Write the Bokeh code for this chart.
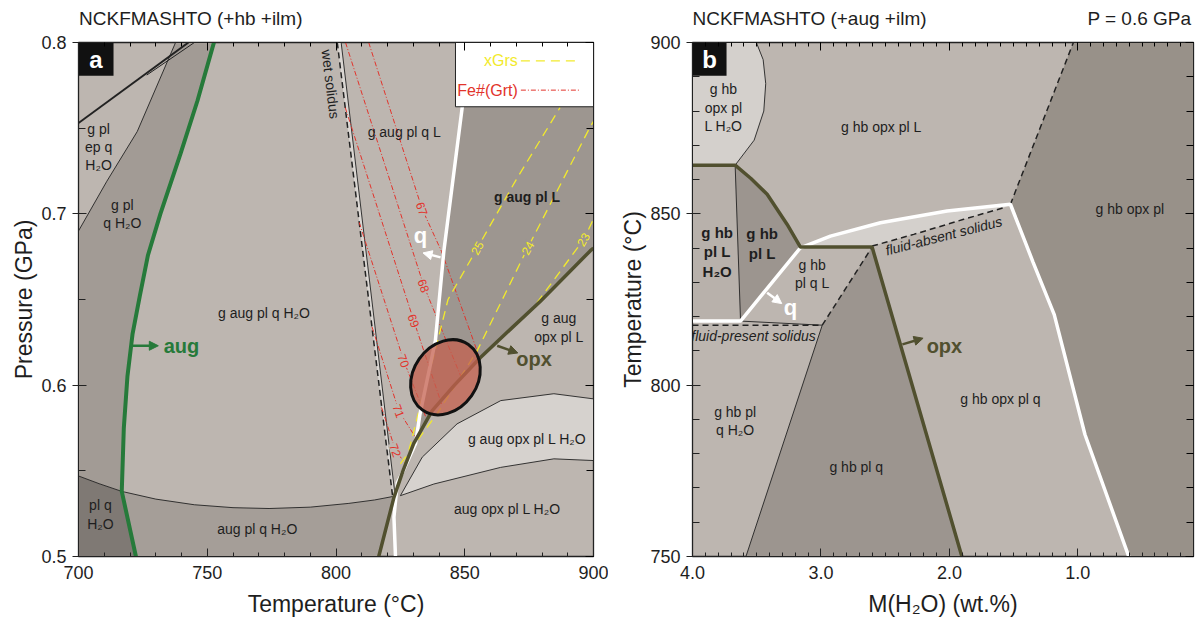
import numpy as np
from bokeh.plotting import figure
from bokeh.layouts import row
from bokeh.models import (LinearAxis, FixedTicker, PrintfTickFormatter, CustomJSTickFormatter, Arrow,
                          NormalHead, Range1d, ColumnDataSource)
from bokeh.core.properties import value
from bokeh.embed import file_html
from bokeh.resources import INLINE

FONT = "Liberation Sans"
BASE = "#bdb6b0"
INK = "#1e1e1e"
GREEN = "#267a3a"
OLIVE = "#51502f"
RED = "#e2332b"
YEL = "#f2ea2c"

# ================= Panel a : P-T pseudosection (T degC, P GPa) =================
a_title = "NCKFMASHTO (+hb +ilm)"
a_xticks = [700, 750, 800, 850, 900]
a_yticks = [0.5, 0.6, 0.7, 0.8]

aug_T = [752.6, 746.2, 739.6, 731.8, 727.0, 723.8, 721.0, 719.0, 717.6, 716.8, 722.3]
aug_P = [0.800, 0.766, 0.735, 0.700, 0.676, 0.652, 0.630, 0.605, 0.575, 0.538, 0.500]
K = aug_P.index(0.538)

ep_T = [737.7, 722.8, 711.0, 700.0]
ep_P = [0.800, 0.748, 0.719, 0.690]

gout_T = [700.0, 708.0, 716.8, 730.0, 745.0, 760.0, 774.0, 790.0, 805.0, 815.0, 822.0]
gout_P = [0.547, 0.5425, 0.538, 0.5335, 0.5302, 0.5285, 0.528, 0.5288, 0.531, 0.533, 0.535]

wsd_T = [800.5, 822.0]
wsd_P = [0.800, 0.535]
ws_T = [802.0, 823.0]
ws_P = [0.800, 0.535]

qout_T = [852.0, 849.0, 841.9, 838.6, 832.6, 830.9, 825.5, 823.8, 822.5, 823.1]
qout_P = [0.800, 0.762, 0.6785, 0.626, 0.583, 0.566, 0.548, 0.543, 0.523, 0.500]

opx_T = [816.6, 822.5, 826.0, 830.2, 837.3, 846.0, 856.0, 868.0, 879.4, 898.8, 900.0]
opx_P = [0.500, 0.5345, 0.550, 0.566, 0.585, 0.600, 0.616, 0.633, 0.649, 0.6785, 0.680]

fl_up_T = [825.0, 833.5, 847.0, 864.0, 884.6, 900.0]
fl_up_P = [0.5355, 0.558, 0.5774, 0.591, 0.595, 0.592]
fl_lo_T = [825.0, 838.0, 863.9, 884.6, 900.0]
fl_lo_P = [0.5355, 0.5423, 0.552, 0.557, 0.556]

bl1_T = [700.0, 742.7]
bl1_P = [0.753, 0.800]
bl2_T = [726.5, 745.0]
bl2_P = [0.781, 0.800]

# Fe#(Grt) isopleths
fe_names = ["67", "68", "69", "70", "71", "72"]
fe_T = [[812.7, 833.4, 841.0, 855.5],
        [803.7, 834.1, 848.5],
        [803.6, 830.2, 841.0],
        [809.0, 826.3, 835.5],
        [814.0, 824.4, 831.5],
        [817.7, 823.1, 827.5]]
fe_P = [[0.800, 0.703, 0.678, 0.617],
        [0.800, 0.658, 0.605],
        [0.762, 0.6376, 0.589],
        [0.695, 0.6143, 0.579],
        [0.634, 0.585, 0.568],
        [0.587, 0.562, 0.553]]
fe_lab_T = [833.4, 834.1, 830.2, 826.3, 824.4, 823.1]
fe_lab_P = [0.703, 0.658, 0.6376, 0.6143, 0.585, 0.562]

# xGrs isopleths
gr_names = ["25", "24", "23"]
gr_T = [[822.8, 828.0, 833.2, 838.5, 843.5, 854.5, 870.0, 887.0],
        [825.0, 840.0, 854.8, 874.4, 898.8, 900.0],
        [878.0, 896.2, 900.0]]
gr_P = [[0.537, 0.560, 0.591, 0.620, 0.650, 0.679, 0.720, 0.762],
        [0.554, 0.585, 0.620, 0.680, 0.751, 0.754],
        [0.648, 0.685, 0.697]]
gr_lab_T = [854.8, 874.4, 896.0]
gr_lab_P = [0.680, 0.680, 0.685]

# P-T estimate ellipse
ell_T, ell_P = 842.5, 0.6046

a_lab_text = ["g pl\nep q\nH\u2082O", "g pl\nq H\u2082O", "g aug pl q H\u2082O", "pl q\nH\u2082O",
              "aug pl q H\u2082O", "g aug pl q L", "g aug\nopx pl L", "g aug opx pl L H\u2082O",
              "aug opx pl L H\u2082O"]
a_lab_T = [707.8, 717.0, 772.0, 708.5, 769.4, 826.5, 886.5, 874.2, 866.5]
a_lab_P = [0.739, 0.700, 0.642, 0.5244, 0.516, 0.7475, 0.6337, 0.5686, 0.5278]

# ================= Panel b : T-M(H2O) pseudosection =================
b_title = "NCKFMASHTO (+aug +ilm)"
b_title_right = "P = 0.6 GPa"
b_xticks = [4.0, 3.0, 2.0, 1.0]
b_yticks = [750, 800, 850, 900]

tl_M = [3.503, 3.45, 3.43, 3.445, 3.52, 3.668]
tl_T = [900.0, 895.0, 888.0, 880.0, 871.5, 864.2]

bo_M = [4.0, 3.668, 3.545, 3.419, 3.263, 3.16, 2.602, 1.903]
bo_T = [864.2, 864.2, 860.3, 855.7, 846.9, 840.3, 840.3, 750.0]

th1_M = [3.668, 3.626]
th1_T = [864.2, 818.7]

bw_M = [4.0, 3.626, 3.16, 2.926, 2.537, 2.018, 1.525, 1.35, 1.184, 0.945, 0.601]
bw_T = [818.7, 818.7, 840.1, 843.5, 847.4, 850.8, 852.8, 836.0, 820.6, 785.6, 749.7]

fa_M = [2.602, 2.278, 1.889, 1.577]
fa_T = [840.6, 844.0, 848.4, 851.8]
d2_M = [1.525, 1.035]
d2_T = [852.8, 900.0]
fp_M = [4.0, 2.99]
fp_T = [817.5, 817.5]
d4_M = [2.99, 2.602]
d4_T = [817.5, 840.3]
th2_M = [3.626, 2.99]
th2_T = [818.7, 817.5]
th3_M = [3.584, 2.99]
th3_T = [750.0, 817.5]

b_lab_text = ["g hb\nopx pl\nL H\u2082O", "g hb opx pl L", "g hb opx pl", "g hb\npl q L",
              "g hb pl\nq H\u2082O", "g hb pl q", "g hb opx pl q"]
b_lab_M = [3.759, 2.531, 0.596, 3.069, 3.668, 2.725, 1.603]
b_lab_T = [881.0, 875.4, 851.3, 832.5, 789.5, 776.1, 796.0]
b_bold_text = ["g hb\npl L\nH\u2082O", "g hb\npl L"]
b_bold_M = [3.808, 3.458]
b_bold_T = [838.9, 841.3]

EMPTY = CustomJSTickFormatter(code="return '';")


def make_fig(xr, yr, fw, bl, br, xt, xmt, yt, ymt, xfmt, yfmt, xlabel, ylabel):
    p = figure(frame_width=fw, frame_height=514, min_border_left=bl, min_border_right=br,
               min_border_top=42, min_border_bottom=70, x_range=xr, y_range=yr,
               output_backend="svg", toolbar_location=None)
    p.background_fill_color = BASE
    p.border_fill_color = "white"
    p.outline_line_color = "#222222"
    p.outline_line_width = 1.3
    p.grid.visible = False
    xa, ya = p.xaxis[0], p.yaxis[0]
    xa.ticker = FixedTicker(ticks=xt, minor_ticks=xmt)
    ya.ticker = FixedTicker(ticks=yt, minor_ticks=ymt)
    xa.formatter = PrintfTickFormatter(format=xfmt)
    ya.formatter = PrintfTickFormatter(format=yfmt)
    for ax in (xa, ya):
        ax.major_label_text_font = FONT
        ax.major_label_text_font_size = "18px"
        ax.major_label_text_color = INK
        ax.axis_label_text_font = FONT
        ax.axis_label_text_font_size = "23px"
        ax.axis_label_text_font_style = "normal"
        ax.axis_label_text_color = INK
        ax.axis_line_color = "#222222"
        ax.major_tick_line_color = "#222222"
        ax.minor_tick_line_color = "#222222"
    xa.axis_label = xlabel
    ya.axis_label = ylabel
    xa.major_label_standoff = 9
    xa.axis_label_standoff = 9
    ya.major_label_standoff = 6
    ya.axis_label_standoff = 1
    xa.major_tick_in, xa.major_tick_out = 8, 0
    xa.minor_tick_in, xa.minor_tick_out = 4, 0
    ya.major_tick_in, ya.major_tick_out = 8, 6
    ya.minor_tick_in, ya.minor_tick_out = 7, 0
    top = LinearAxis(ticker=FixedTicker(ticks=xt, minor_ticks=xmt), formatter=EMPTY,
                     major_label_standoff=0, major_tick_in=8, major_tick_out=0,
                     minor_tick_in=4, minor_tick_out=0, axis_line_color="#222222")
    right = LinearAxis(ticker=FixedTicker(ticks=yt, minor_ticks=ymt), formatter=EMPTY,
                       major_label_standoff=0, major_tick_in=8, major_tick_out=0,
                       minor_tick_in=7, minor_tick_out=0, axis_line_color="#222222")
    p.add_layout(top, "above")
    p.add_layout(right, "right")
    return p


def add_titles(p, centers, code):
    # an extra label-only axis above the frame carries the panel titles
    ax = LinearAxis(ticker=FixedTicker(ticks=centers, minor_ticks=[]),
                    formatter=CustomJSTickFormatter(code=code),
                    major_tick_in=0, major_tick_out=0, minor_tick_in=0, minor_tick_out=0,
                    major_tick_line_color=None, minor_tick_line_color=None, axis_line_color=None,
                    major_label_standoff=14, major_label_text_font=FONT,
                    major_label_text_font_size="19px", major_label_text_color=INK)
    p.add_layout(ax, "above")


def txt(p, xs, ys, texts, size="14px", color=INK, style="normal", angle=0.0, align="center", bg=None):
    src = ColumnDataSource(dict(x=list(xs), y=list(ys), text=list(texts)))
    kw = {}
    if bg is not None:
        kw = dict(background_fill_color=bg, padding=1)
    p.text(x="x", y="y", text="text", source=src, text_font=value(FONT), text_font_size=size,
           text_color=color, text_font_style=style, angle=angle, text_align=align,
           text_baseline="middle", text_line_height=1.15, **kw)


def poly(p, xs, ys, color):
    p.patch(list(xs), list(ys), fill_color=color, line_color=None)


def arrow(p, x0, y0, x1, y1, color):
    p.add_layout(Arrow(end=NormalHead(size=9, fill_color=color, line_color=color),
                       x_start=x0, y_start=y0, x_end=x1, y_end=y1,
                       line_color=color, line_width=2.5))

# ---------------- Panel a ----------------
pa = make_fig(Range1d(700, 900), Range1d(0.5, 0.8), 515, 78, 15,
              a_xticks, list(range(700, 901, 10)), a_yticks,
              [round(v, 2) for v in np.arange(0.5, 0.801, 0.05)],
              "%d", "%.1f", "Temperature (\u00b0C)", "Pressure (GPa)")

# regions
poly(pa, ep_T + gout_T[:3] + aug_T[K::-1], ep_P + gout_P[:3] + aug_P[K::-1], "#a29b95")
poly(pa, [700] + gout_T[:3] + [aug_T[-1]], [0.5] + gout_P[:3] + [aug_P[-1]], "#7f7974")
poly(pa, [aug_T[-1], opx_T[0], opx_T[1]] + gout_T[:1:-1],
     [aug_P[-1], opx_P[0], opx_P[1]] + gout_P[:1:-1], "#a59e98")
poly(pa, qout_T[:6] + opx_T[3:] + [900], qout_P[:6] + opx_P[3:] + [0.8], "#9d9690")
poly(pa, fl_up_T + fl_lo_T[::-1], fl_up_P + fl_lo_P[::-1], "#d6d2ce")
poly(pa, wsd_T + ws_T[::-1], wsd_P + ws_P[::-1], "#dad6d2")

# thin boundaries
for xs, ys in [(ep_T, ep_P), (gout_T, gout_P), (fl_up_T, fl_up_P), (fl_lo_T, fl_lo_P), (ws_T, ws_P)]:
    pa.line(xs, ys, line_color="#222222", line_width=0.9)
pa.line(bl1_T, bl1_P, line_color="#222222", line_width=2)
pa.line(bl2_T, bl2_P, line_color="#222222", line_width=1)
pa.line(wsd_T, wsd_P, line_color="#222222", line_width=1.5, line_dash="6 4")

# isopleths
for xs, ys in zip(fe_T, fe_P):
    pa.line(xs, ys, line_color=RED, line_width=1, line_dash="5 2 1 2")
for xs, ys in zip(gr_T, gr_P):
    pa.line(xs, ys, line_color=YEL, line_width=1.3, line_dash="9 6")

pa.line(qout_T, qout_P, line_color="white", line_width=3.5)
pa.line(opx_T, opx_P, line_color=OLIVE, line_width=3.5)
pa.line(aug_T, aug_P, line_color=GREEN, line_width=4)

txt(pa, fe_lab_T, fe_lab_P, fe_names, size="12px", color=RED, angle=-1.22, bg=BASE)
txt(pa, gr_lab_T, gr_lab_P, gr_names, size="12px", color=YEL, angle=1.06, bg="#9d9690")

pa.ellipse(x=ell_T, y=ell_P, width=80, height=64, width_units="screen", height_units="screen",
           angle=0.96, fill_color="#c4604f", fill_alpha=0.75, line_color="#111111", line_width=3)

txt(pa, a_lab_T, a_lab_P, a_lab_text, size="14px")
txt(pa, [874.2], [0.710], ["g aug pl L"], size="14px", style="bold")
txt(pa, [740.0], [0.623], ["aug"], size="20px", color=GREEN, style="bold")
txt(pa, [876.9], [0.6153], ["opx"], size="20px", color=OLIVE, style="bold")
txt(pa, [832.8], [0.6872], ["q"], size="22px", color="white", style="bold")
txt(pa, [797.9], [0.7757], ["wet solidus"], size="14px", angle=-1.45)
arrow(pa, 720.8, 0.623, 731.0, 0.623, GREEN)
arrow(pa, 840.6, 0.6746, 833.8, 0.6772, "white")
arrow(pa, 862.6, 0.623, 870.6, 0.6188, OLIVE)

# legend
pa.quad(left=[846.4], right=[900], top=[0.8], bottom=[0.7625], fill_color="white",
        line_color="#222222", line_width=1)
txt(pa, [870.6], [0.7893], ["xGrs"], size="16px", color=YEL, align="right")
txt(pa, [870.6], [0.7722], ["Fe#(Grt)"], size="16px", color=RED, align="right")
pa.line([871.8, 894.6], [0.7893, 0.7893], line_color=YEL, line_width=1.3, line_dash="9 6")
pa.line([871.8, 894.6], [0.7722, 0.7722], line_color=RED, line_width=1, line_dash="5 2 1 2")

# panel badge & title
pa.quad(left=[700], right=[713.6], top=[0.8], bottom=[0.7806], fill_color="#111111", line_color=None)
txt(pa, [706.8], [0.7903], ["a"], size="24px", color="white", style="bold")
add_titles(pa, [743.6], "return '%s';" % a_title)

# ---------------- Panel b ----------------
pb = make_fig(Range1d(4.0, 0.1), Range1d(750, 900), 501, 84, 3,
              b_xticks, [round(v, 1) for v in np.arange(0.1, 4.01, 0.1)], b_yticks,
              list(range(750, 901, 10)), "%.1f", "%d",
              "M(H\u2082O) (wt.%)", "Temperature (\u00b0C)")

poly(pb, [4.0] + tl_M + [4.0], [900] + tl_T + [864.2], "#d4d0cc")
poly(pb, [4.0, 3.668, 3.626, 4.0], [864.2, 864.2, 818.7, 818.7], "#b8b1ab")
poly(pb, bo_M[1:6] + [th1_M[1]], bo_T[1:6] + [th1_T[1]], "#9c958f")
poly(pb, bw_M[2:7] + fa_M[::-1], bw_T[2:7] + fa_T[::-1], "#d4d0cc")
poly(pb, d2_M[::-1] + bw_M[6:] + [0.0, 0.0], d2_T[::-1] + bw_T[6:] + [750, 900], "#989189")
poly(pb, th3_M + d4_M[1:] + [bo_M[-1]], th3_T + d4_T[1:] + [bo_T[-1]], "#9c958f")

for xs, ys in [(tl_M, tl_T), (th1_M, th1_T), (th2_M, th2_T), (th3_M, th3_T)]:
    pb.line(xs, ys, line_color="#222222", line_width=0.9)
for xs, ys in [(fa_M, fa_T), (d2_M, d2_T), (fp_M, fp_T), (d4_M, d4_T)]:
    pb.line(xs, ys, line_color="#222222", line_width=1.5, line_dash="6 4")
pb.line(bw_M, bw_T, line_color="white", line_width=3.5)
pb.line(bo_M, bo_T, line_color=OLIVE, line_width=3.5)

txt(pb, b_lab_M, b_lab_T, b_lab_text, size="14px")
txt(pb, b_bold_M, b_bold_T, b_bold_text, size="15px", style="bold")
txt(pb, [2.044], [843.6], ["fluid-absent solidus"], size="14px", style="italic", angle=0.25)
txt(pb, [3.525], [814.3], ["fluid-present solidus"], size="14px", style="italic")
txt(pb, [3.237], [822.6], ["q"], size="22px", color="white", style="bold")
txt(pb, [2.039], [811.4], ["opx"], size="20px", color=OLIVE, style="bold")
arrow(pb, 3.419, 827.0, 3.305, 823.8, "white")
arrow(pb, 2.366, 811.9, 2.205, 813.7, OLIVE)

pb.quad(left=[4.0], right=[3.735], top=[900], bottom=[890.3], fill_color="#111111", line_color=None)
txt(pb, [3.8675], [895.15], ["b"], size="24px", color="white", style="bold")
add_titles(pb, [3.089, 0.521],
           "return tick > 2 ? '%s' : '%s';" % (b_title, b_title_right))

layout = row(pa, pb, spacing=0)
open("out.html", "w").write(file_html(layout, INLINE))
